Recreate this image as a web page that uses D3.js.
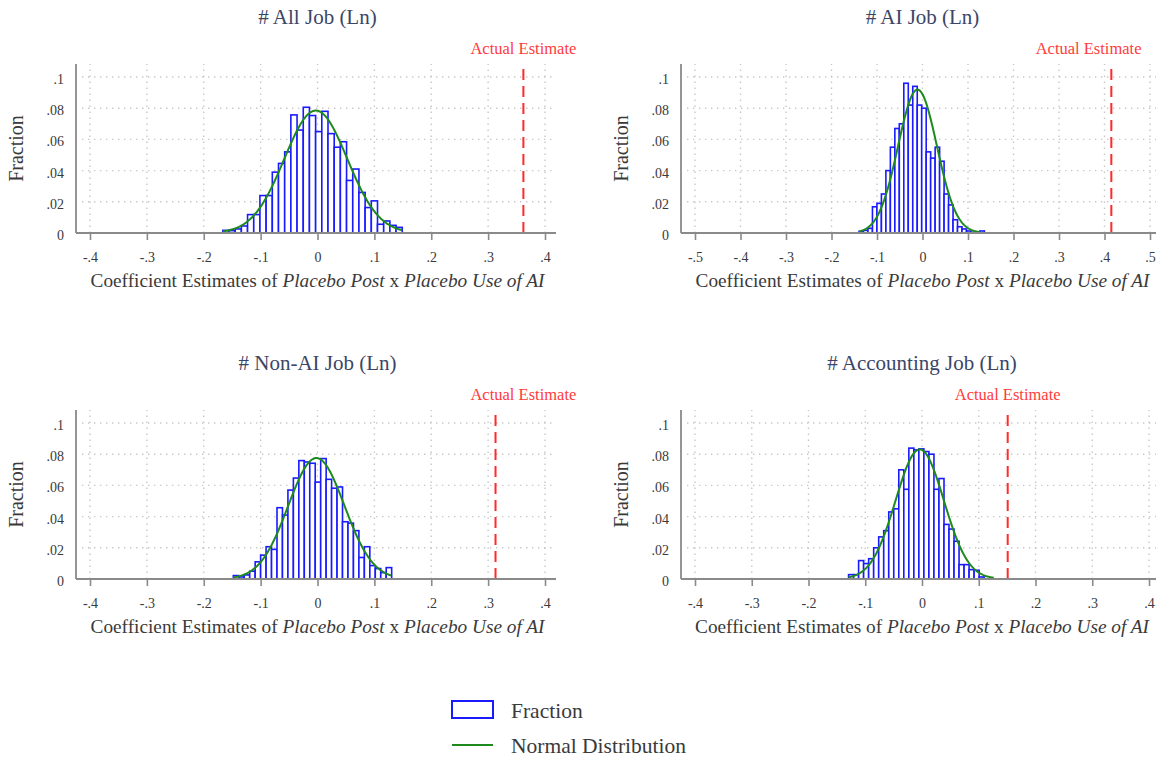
<!DOCTYPE html>
<html>
<head>
<meta charset="utf-8">
<script src="https://cdn.jsdelivr.net/npm/d3@7"></script>
<style>
  body { margin: 0; background: #fff; }
  text { font-family: "Liberation Serif", "DejaVu Serif", serif; }
</style>
</head>
<body>
<script>
// panel titles
var titles = ["# All Job (Ln)", "# AI Job (Ln)", "# Non-AI Job (Ln)", "# Accounting Job (Ln)"];

// histogram fractions
var fracAll = [0.0017, 0.0015, 0.0026, 0.0045, 0.0118, 0.0118, 0.024, 0.024, 0.039, 0.0446,
  0.052, 0.0757, 0.066, 0.0806, 0.0753, 0.065, 0.078, 0.0637, 0.055, 0.0585,
  0.0337, 0.041, 0.026, 0.0163, 0.0206, 0.0056, 0.0077, 0.0049, 0.0036];
var fracAI = [0.001, 0.0017, 0.003, 0.0168, 0.019, 0.025, 0.04, 0.055, 0.067, 0.07,
  0.096, 0.082, 0.094, 0.082, 0.080, 0.052, 0.048, 0.055, 0.046, 0.025,
  0.018, 0.0085, 0.004, 0.0026, 0.0013, 0.0004, 0.0004, 0.0013];
var fracNonAI = [0.0022, 0.0013, 0.0026, 0.005, 0.011, 0.0153, 0.0207, 0.019, 0.0457, 0.041,
  0.057, 0.0647, 0.0759, 0.075, 0.0742, 0.0621, 0.0772, 0.0639, 0.0582, 0.059,
  0.0367, 0.0358, 0.031, 0.0138, 0.0207, 0.0086, 0.0067, 0.0041, 0.0073];
var fracAcct = [0.0028, 0.0028, 0.0118, 0.0099, 0.013, 0.020, 0.027, 0.031, 0.043, 0.045,
  0.070, 0.0575, 0.0839, 0.0828, 0.0834, 0.0817, 0.080, 0.0575, 0.0644, 0.035,
  0.032, 0.0242, 0.0092, 0.0092, 0.006, 0.0056, 0.0013];

// first bin edge and bin width of each panel
var binStart = [-0.1665, -0.1395, -0.148, -0.1294];
var binWidth = [0.01088, 0.00984, 0.0096, 0.00885];

// normal overlay (mean, sd, range drawn)
var normMean = [-0.003, -0.011, -0.002, -0.004];
var normSd = [0.0553, 0.0427, 0.0494, 0.0425];
var normFrom = [-0.1665, -0.1395, -0.148, -0.1294];
var normTo = [0.149, 0.1267, 0.130, 0.1265];

// actual estimate (red line) and where its label sits
var actualEst = [0.362, 0.415, 0.313, 0.151];
var labelAt = [0.362, 0.365, 0.362, 0.151];

// ticks
var xTicks = [
  [-0.4, -0.3, -0.2, -0.1, 0, 0.1, 0.2, 0.3, 0.4],
  [-0.5, -0.4, -0.3, -0.2, -0.1, 0, 0.1, 0.2, 0.3, 0.4, 0.5],
  [-0.4, -0.3, -0.2, -0.1, 0, 0.1, 0.2, 0.3, 0.4],
  [-0.4, -0.3, -0.2, -0.1, 0, 0.1, 0.2, 0.3, 0.4]
];
var yTicks = [0, 0.02, 0.04, 0.06, 0.08, 0.1];

var fracs = [fracAll, fracAI, fracNonAI, fracAcct];

var svg = d3.select("body").append("svg")
  .attr("width", 1156)
  .attr("height", 761);

//stata style numbers: -.4 .08 0
function fmt(v) {
  if (Math.abs(v) < 1e-9) return "0";
  var s = d3.format(".2~f")(Math.abs(v)).replace(/^0/, "");
  return (v < 0 ? "-" : "") + s;
}

var gridCol = "#c8c8c8";
var axisCol = "#8a8a8a";
var textCol = "#3a3a3a";

fracs.forEach(function(fr, i) {
  var col = i % 2, row = Math.floor(i / 2);
  var dy = row * 346;
  var axL = col ? 681 : 76, axR = col ? 1157 : 556;
  var axTop = 64 + dy;

  var xr = col ? (i == 1 ? [695, 1150] : [695, 1149]) : [90, 545];
  var x = d3.scaleLinear().domain([xTicks[i][0], xTicks[i][xTicks[i].length - 1]]).range(xr);
  var y = d3.scaleLinear().domain([0, 0.1]).range([233 + dy, 77 + dy]);

  var g = svg.append("g");

  //grid
  g.selectAll(".hg").data(yTicks.slice(1)).enter().append("line")
    .attr("x1", axL + 6).attr("x2", axR)
    .attr("y1", function(d) { return y(d); })
    .attr("y2", function(d) { return y(d); })
    .attr("stroke", gridCol).attr("stroke-width", 1.4)
    .attr("stroke-dasharray", "1.4,4.6");
  g.selectAll(".vg").data(xTicks[i]).enter().append("line")
    .attr("x1", function(d) { return x(d); })
    .attr("x2", function(d) { return x(d); })
    .attr("y1", y(0)).attr("y2", axTop)
    .attr("stroke", gridCol).attr("stroke-width", 1.4)
    .attr("stroke-dasharray", "1.4,4.6");

  //bars
  var w = binWidth[i];
  g.selectAll(".bar").data(fr).enter().append("rect")
    .attr("x", function(d, j) { return x(binStart[i] + j * w); })
    .attr("width", x(w) - x(0))
    .attr("y", function(d) { return y(d); })
    .attr("height", function(d) { return y(0) - y(d); })
    .attr("fill", "white")
    .attr("stroke", "#1a1aff")
    .attr("stroke-width", 1.6);

  //normal curve scaled to fraction
  var m = normMean[i], sd = normSd[i];
  var pts = d3.range(0, 201).map(function(k) {
    var xv = normFrom[i] + (normTo[i] - normFrom[i]) * k / 200;
    var yv = w / (sd * Math.sqrt(2 * Math.PI)) * Math.exp(-0.5 * Math.pow((xv - m) / sd, 2));
    return [xv, yv];
  });
  g.append("path")
    .attr("d", d3.line().x(function(d) { return x(d[0]); }).y(function(d) { return y(d[1]); })(pts))
    .attr("fill", "none")
    .attr("stroke", "#1e8a1e")
    .attr("stroke-width", 2);

  //actual estimate
  g.append("line")
    .attr("x1", x(actualEst[i])).attr("x2", x(actualEst[i]))
    .attr("y1", y(0)).attr("y2", axTop + 3)
    .attr("stroke", "#ff2a2a").attr("stroke-width", 2)
    .attr("stroke-dasharray", "11,6");
  g.append("text")
    .attr("x", x(labelAt[i])).attr("y", 50 + dy)
    .attr("text-anchor", "middle").attr("dominant-baseline", "middle")
    .attr("fill", "#ff3b3b").attr("font-size", 16.5)
    .text("Actual Estimate");

  //axes lines
  g.append("line").attr("x1", axL).attr("x2", axR).attr("y1", y(0)).attr("y2", y(0))
    .attr("stroke", axisCol).attr("stroke-width", 1.8);
  g.append("line").attr("x1", axL).attr("x2", axL).attr("y1", y(0)).attr("y2", axTop)
    .attr("stroke", axisCol).attr("stroke-width", 1.8);

  var xa = g.append("g").attr("transform", "translate(0," + y(0) + ")")
    .call(d3.axisBottom(x).tickValues(xTicks[i]).tickFormat(fmt).tickSize(7).tickPadding(12));
  xa.select(".domain").remove();
  xa.selectAll("line").attr("stroke", axisCol).attr("stroke-width", 1.6);
  xa.selectAll("text").attr("fill", textCol).attr("font-size", 14)
    .style("font-family", '"Liberation Serif", serif');

  var ya = g.append("g").attr("transform", "translate(" + axL + ",2)")
    .call(d3.axisLeft(y).tickValues(yTicks).tickFormat(fmt).tickSize(0).tickPadding(12));
  ya.select(".domain").remove();
  ya.selectAll("text").attr("fill", textCol).attr("font-size", 14)
    .style("font-family", '"Liberation Serif", serif');

  //titles
  g.append("text")
    .attr("x", x(0)).attr("y", 19 + dy)
    .attr("text-anchor", "middle").attr("dominant-baseline", "middle")
    .attr("fill", "#3b4667").attr("font-size", 21)
    .text(titles[i]);

  var xt = g.append("text")
    .attr("x", x(0)).attr("y", 283 + dy)
    .attr("text-anchor", "middle").attr("dominant-baseline", "middle")
    .attr("fill", textCol).attr("font-size", 19.3);
  xt.append("tspan").text("Coefficient Estimates of ");
  xt.append("tspan").attr("font-style", "italic").text("Placebo Post");
  xt.append("tspan").text(" x ");
  xt.append("tspan").attr("font-style", "italic").text("Placebo Use of AI");

  g.append("text")
    .attr("transform", "translate(" + (axL - 58) + "," + ((y(0) + axTop) / 2) + ") rotate(-90)")
    .attr("text-anchor", "middle").attr("dominant-baseline", "middle")
    .attr("fill", textCol).attr("font-size", 20)
    .text("Fraction");
});

//legend
var lg = svg.append("g");
lg.append("rect").attr("x", 452).attr("y", 701).attr("width", 41).attr("height", 17)
  .attr("fill", "white").attr("stroke", "#1a1aff").attr("stroke-width", 2);
lg.append("text").attr("x", 511).attr("y", 713).attr("dominant-baseline", "middle")
  .attr("fill", textCol).attr("font-size", 21.5).text("Fraction");
lg.append("line").attr("x1", 452).attr("x2", 493).attr("y1", 745).attr("y2", 745)
  .attr("stroke", "#1e8a1e").attr("stroke-width", 2);
lg.append("text").attr("x", 511).attr("y", 748).attr("dominant-baseline", "middle")
  .attr("fill", textCol).attr("font-size", 21.5).text("Normal Distribution");
</script>
</body>
</html>
